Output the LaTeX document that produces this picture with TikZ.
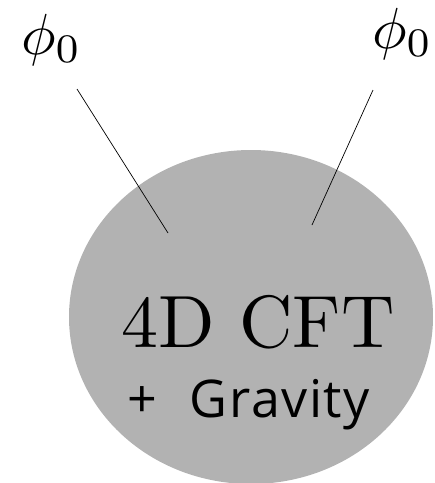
\documentclass[tikz,border=0pt]{standalone}
\usepackage{fontspec}
\setmainfont{lmroman10-regular}[Extension=.otf]
\newfontfamily\handfont{Open Sans}[LetterSpace=3]
\tikzset{
  blobfill/.style={fill=black!30},
  leg/.style={draw=black, line width=0.7pt},
  lab/.style={inner sep=0pt, anchor=base west, scale=5.8},
}
\begin{document}
\begin{tikzpicture}[x=1pt,y=-1pt]
\useasboundingbox (0,0) rectangle (435,483);
\fill[blobfill] (251,317) ellipse [x radius=182, y radius=167];
\node[lab] (phiL) at (20,54) {$\phi_0$};
\node[lab] (phiR) at (371,48) {$\phi_0$};
\coordinate (topL) at (77,89);
\coordinate (endL) at (168,233);
\coordinate (topR) at (373,90);
\coordinate (endR) at (312,225);
\draw[leg] (topL) -- (endL);
\draw[leg] (topR) -- (endR);
\node[inner sep=0pt, anchor=base, font=\fontsize{74}{76}\selectfont] (cft) at (258,347) {4D CFT};
\node[inner sep=0pt, anchor=base west, font=\handfont\fontsize{52}{54}\selectfont] (grav) at (127,417) {+\hspace{33pt}Gravity};
\end{tikzpicture}
\end{document}
